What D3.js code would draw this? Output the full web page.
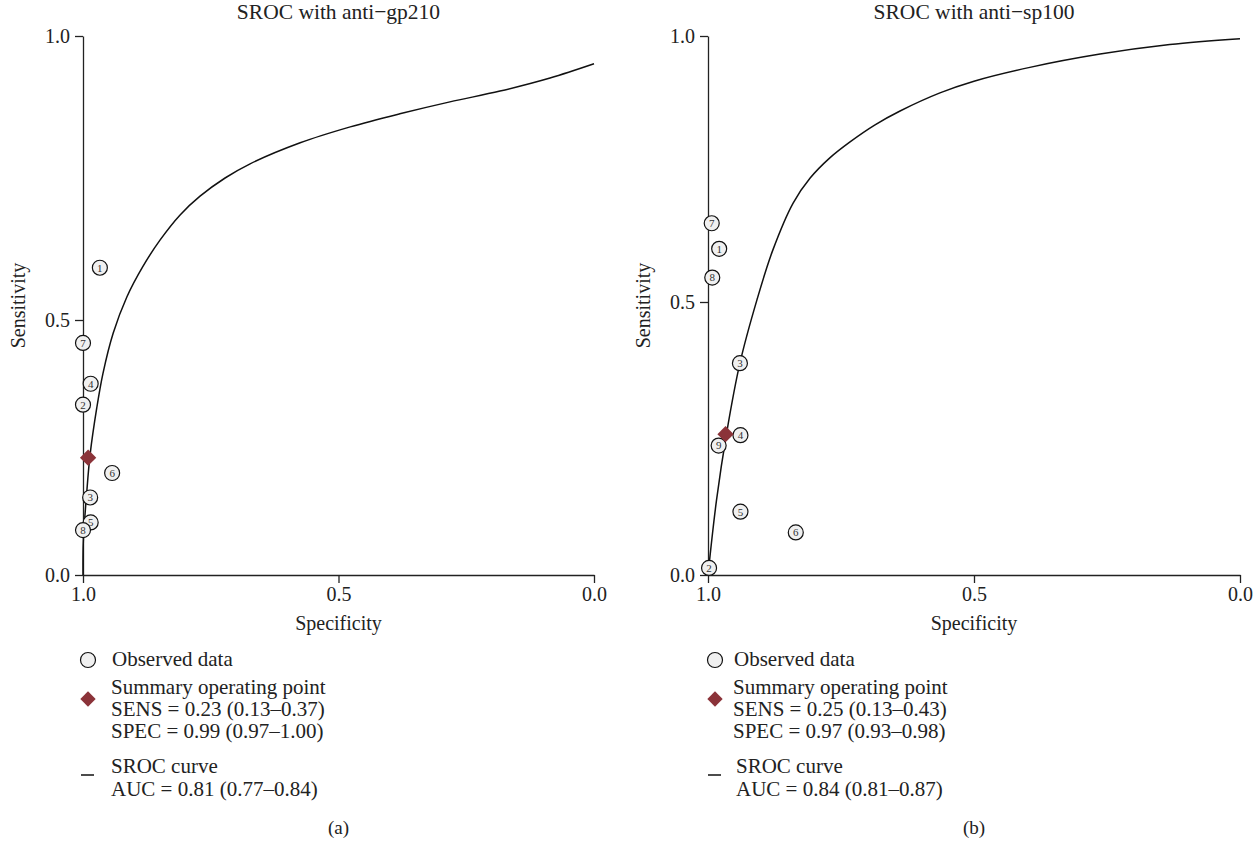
<!DOCTYPE html>
<html>
<head>
<meta charset="utf-8">
<script src="https://cdn.jsdelivr.net/npm/d3@7"></script>
<style>
  body { margin: 0; background: #fff; }
  svg text { font-family: "Liberation Serif", "Times New Roman", serif; fill: #222; }
  .axis path, .axis line { stroke: #222; stroke-width: 1.3px; }
  .axis text { font-size: 20px; }
</style>
</head>
<body>
<div id="chart"></div>
<script>
// study points: [id, specificity, sensitivity]
const gp210Studies = [
  [1, 0.967, 0.592], [7, 1.0, 0.455], [4, 0.985, 0.375], [2, 1.0, 0.334],
  [6, 0.943, 0.200], [3, 0.986, 0.152], [5, 0.985, 0.103], [8, 1.0, 0.088]
];
const sp100Studies = [
  [7, 0.993, 0.648], [1, 0.979, 0.600], [8, 0.992, 0.546], [3, 0.940, 0.388],
  [4, 0.939, 0.256], [9, 0.980, 0.237], [5, 0.939, 0.116], [6, 0.835, 0.078],
  [2, 0.998, 0.013]
];
// summary operating points [spec, sens]
const gp210Summary = [0.99, 0.23];
const sp100Summary = [0.967, 0.258];

// SROC curves: [spec, sens]
const gp210Curve = [
  [1.0, 0], [0.9994, 0.065], [0.993, 0.158], [0.986, 0.237], [0.973, 0.328],
  [0.961, 0.395], [0.941, 0.474], [0.914, 0.541], [0.883, 0.594], [0.849, 0.641],
  [0.810, 0.685], [0.771, 0.718], [0.722, 0.750], [0.673, 0.775], [0.575, 0.812],
  [0.477, 0.840], [0.380, 0.863], [0.282, 0.884], [0.184, 0.903], [0.086, 0.926],
  [0, 0.951]
];
const sp100Curve = [
  [1.0, 0], [0.984, 0.137], [0.965, 0.260], [0.940, 0.388], [0.908, 0.504],
  [0.878, 0.598], [0.840, 0.686], [0.808, 0.733], [0.771, 0.771], [0.733, 0.801],
  [0.686, 0.833], [0.639, 0.859], [0.564, 0.893], [0.5, 0.915], [0.395, 0.941],
  [0.263, 0.966], [0.132, 0.984], [0, 0.995]
];

const ticks = [1.0, 0.5, 0.0];
const titles = ["SROC with anti\u2212gp210", "SROC with anti\u2212sp100"];
const gp210Legend = ["Observed data", "Summary operating point",
  "SENS = 0.23 (0.13\u20130.37)", "SPEC = 0.99 (0.97\u20131.00)",
  "SROC curve", "AUC = 0.81 (0.77\u20130.84)"];
const sp100Legend = ["Observed data", "Summary operating point",
  "SENS = 0.25 (0.13\u20130.43)", "SPEC = 0.97 (0.93\u20130.98)",
  "SROC curve", "AUC = 0.84 (0.81\u20130.87)"];
const panelLabels = ["(a)", "(b)"];

const svg = d3.select("#chart").append("svg")
  .attr("width", 1259)
  .attr("height", 841);

const panels = [
  { studies: gp210Studies, summary: gp210Summary, curve: gp210Curve, legend: gp210Legend,
    title: titles[0], label: panelLabels[0],
    x: d3.scaleLinear().domain([1, 0]).range([83, 594]),
    y: d3.scaleLinear().domain([0, 0.5, 1]).range([575, 320, 36]),
    legX: 88, textX: 111, shift: 0 },
  { studies: sp100Studies, summary: sp100Summary, curve: sp100Curve, legend: sp100Legend,
    title: titles[1], label: panelLabels[1],
    x: d3.scaleLinear().domain([1, 0]).range([708, 1240]),
    y: d3.scaleLinear().domain([0, 0.5, 1]).range([575, 302, 36]),
    legX: 715, textX: 733, shift: 3 }
];

panels.forEach(p => {
  const g = svg.append("g");
  const x = p.x, y = p.y;
  const x0 = x.range()[0], x1 = x.range()[1];
  const mid = (x0 + x1) / 2;

  // title
  g.append("text")
    .attr("x", mid).attr("y", 19)
    .attr("text-anchor", "middle")
    .style("font-size", "21.5px")
    .text(p.title);

  // axes
  g.append("g")
    .attr("class", "axis")
    .attr("transform", `translate(0,${y(0)})`)
    .call(d3.axisBottom(x).tickValues(ticks).tickFormat(d3.format(".1f")).tickSizeInner(8).tickSizeOuter(0).tickPadding(4));

  g.append("g")
    .attr("class", "axis")
    .attr("transform", `translate(${x0},0)`)
    .call(d3.axisLeft(y).tickValues(ticks).tickFormat(d3.format(".1f")).tickSizeInner(8).tickSizeOuter(0).tickPadding(5));

  g.selectAll(".axis .domain").attr("fill", "none");

  // axis titles
  g.append("text")
    .attr("x", mid).attr("y", y(0) + 55)
    .attr("text-anchor", "middle")
    .style("font-size", "20px")
    .text("Specificity");

  g.append("text")
    .attr("transform", `translate(${x0 - 58},${(y(0) + y(1)) / 2}) rotate(-90)`)
    .attr("text-anchor", "middle")
    .style("font-size", "20px")
    .text("Sensitivity");

  // SROC curve
  const line = d3.line()
    .x(d => x(d[0]))
    .y(d => y(d[1]))
    .curve(d3.curveCatmullRom.alpha(0.5));

  g.append("path")
    .datum(p.curve)
    .attr("d", line)
    .attr("fill", "none")
    .attr("stroke", "#111")
    .attr("stroke-width", 1.5);

  // study points
  const pts = g.selectAll(".study")
    .data(p.studies)
    .enter().append("g")
    .attr("class", "study")
    .attr("transform", d => `translate(${x(d[1])},${y(d[2])})`);

  pts.append("circle")
    .attr("r", 7.5)
    .attr("fill", "#f0f0f0")
    .attr("stroke", "#111")
    .attr("stroke-width", 1.2);

  pts.append("text")
    .attr("text-anchor", "middle")
    .attr("dy", "0.35em")
    .style("font-size", "11px")
    .style("fill", "#333")
    .text(d => d[0]);

  // summary point
  g.append("path")
    .attr("d", d3.symbol().type(d3.symbolDiamond2).size(170)())
    .attr("transform", `translate(${x(p.summary[0])},${y(p.summary[1])})`)
    .attr("fill", "#8b3339");

  // legend
  const lg = g.append("g");
  const lineYs = [666, 694, 716, 738, 773, 796];

  lg.append("circle")
    .attr("cx", p.legX).attr("cy", 660).attr("r", 7.5)
    .attr("fill", "#f0f0f0").attr("stroke", "#111").attr("stroke-width", 1.2);

  lg.append("path")
    .attr("d", d3.symbol().type(d3.symbolDiamond2).size(150)())
    .attr("transform", `translate(${p.legX},699)`)
    .attr("fill", "#8b3339");

  lg.append("line")
    .attr("x1", p.legX - 7).attr("x2", p.legX + 6)
    .attr("y1", 775).attr("y2", 775)
    .attr("stroke", "#111").attr("stroke-width", 1.5);

  lg.selectAll("text")
    .data(p.legend)
    .enter().append("text")
    .attr("x", (d, i) => i === 0 ? p.textX + 1 : p.textX + (i >= 4 ? p.shift : 0))
    .attr("y", (d, i) => lineYs[i])
    .style("font-size", "21px")
    .text(d => d);

  // panel label
  g.append("text")
    .attr("x", mid).attr("y", 834)
    .attr("text-anchor", "middle")
    .style("font-size", "19px")
    .text(p.label);
});
</script>
</body>
</html>
